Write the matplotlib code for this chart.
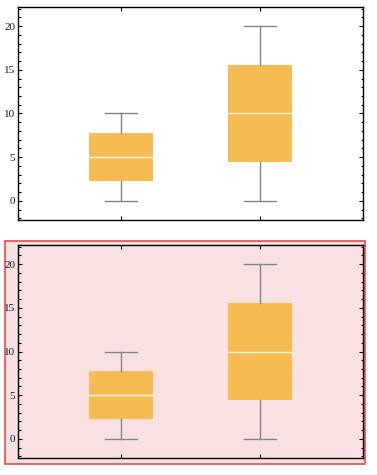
import matplotlib
matplotlib.use("Agg")
import matplotlib.pyplot as plt
from matplotlib.patches import Rectangle
from matplotlib.ticker import MultipleLocator

# box statistics
positions = [1, 2]
whisker_low = [0, 0]
q1 = [2.25, 4.5]
medians = [5, 10]
q3 = [7.75, 15.5]
whisker_high = [10, 20]
y_ticks = [0, 5, 10, 15, 20]

BOX_COLOR = "#f6bc52"
WHISKER_COLOR = "#858585"
PINK = "#f9e1e2"
RED = "#e84c4c"


def _style() -> None:
    plt.rcParams.update(
        {
            "font.family": ["Liberation Serif", "DejaVu Serif"],
            "font.size": 8,
        }
    )


def _stats():
    out = []
    for i in range(len(positions)):
        out.append(
            {
                "whislo": whisker_low[i],
                "q1": q1[i],
                "med": medians[i],
                "q3": q3[i],
                "whishi": whisker_high[i],
                "fliers": [],
            }
        )
    return out


def draw_panel(ax, face) -> None:
    ax.set_facecolor(face)
    ax.bxp(
        _stats(),
        positions=positions,
        widths=0.46,
        patch_artist=True,
        showfliers=False,
        boxprops=dict(facecolor=BOX_COLOR, edgecolor=BOX_COLOR, linewidth=0),
        medianprops=dict(color="#fff6dc", linewidth=1.0),
        whiskerprops=dict(color=WHISKER_COLOR, linewidth=1.0),
        capprops=dict(color=WHISKER_COLOR, linewidth=1.0),
        capwidths=0.23,
    )
    ax.set_xlim(0.26, 2.74)
    ax.set_ylim(-2.2, 22.2)
    ax.set_yticks(y_ticks)
    ax.yaxis.set_minor_locator(MultipleLocator(1))
    ax.set_xticks(positions)
    ax.set_xticklabels([])
    ax.tick_params(axis="both", which="both", direction="in",
                   top=True, right=True, color="black", width=0.8)
    ax.tick_params(axis="both", which="major", length=3.2, pad=2,
                   labelcolor="#1a1a1a", labelsize=8)
    ax.tick_params(axis="both", which="minor", length=1.8)
    for s in ax.spines.values():
        s.set_linewidth(1.0)
        s.set_color("black")


def main() -> None:
    _style()
    W, H = 377, 475
    fig = plt.figure(figsize=(W / 100, H / 100), dpi=100)
    fig.patch.set_facecolor("white")

    # pink frame behind the lower panel
    fig.patches.append(
        Rectangle((5 / W, 1 - 463.5 / H), 360 / W, 222.5 / H,
                  transform=fig.transFigure, facecolor=PINK,
                  edgecolor=RED, linewidth=1.2, zorder=-5)
    )

    ax_top = fig.add_axes([18 / W, 1 - 220 / H, 345 / W, 213 / H])
    draw_panel(ax_top, "white")

    ax_bot = fig.add_axes([18 / W, 1 - 458 / H, 345 / W, 213 / H])
    draw_panel(ax_bot, PINK)

    fig.savefig("out.png", dpi=100)
    plt.close(fig)


if __name__ == "__main__":
    main()
